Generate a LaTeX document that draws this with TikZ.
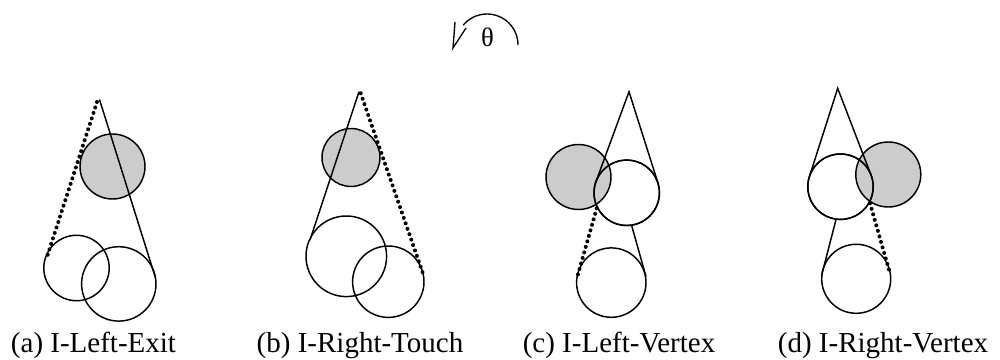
\documentclass[tikz,border=0pt]{standalone}
\usepackage{fontspec}
\setmainfont{Liberation Serif}
\begin{document}
\begin{tikzpicture}[x=0.75pt,y=-0.75pt,
  disc/.style={circle,draw=black,line width=1.1pt,inner sep=0pt,outer sep=0pt,minimum size={#1*1.5pt}},
  shaded/.style={fill=black!20},
  edge/.style={line width=1.1pt},
  dots/.style={line width=3pt,line cap=round,dash pattern=on 0pt off 4.3pt},
  caption/.style={anchor=base,inner sep=0pt,font=\fontsize{21.75pt}{26pt}\selectfont}
]
\useasboundingbox (0,0) rectangle (1000,360);

% ---------- (a) ----------
\node[disc=32.5,shaded] (ag) at (112.5,166.5) {};
\node[disc=32.7] (al) at (76.5,268) {};
\node[disc=37.2] (ar) at (118.8,283.9) {};
\coordinate (aapex) at (99.5,99.5);
\coordinate (adot) at (97,102);
\coordinate (ae1) at (155.5,278);
\coordinate (ae2) at (46,260);
\draw[edge] (aapex) -- (ae1);
\draw[dots] (adot) -- (ae2);

% ---------- (b) ----------
\node[disc=29,shaded] (bg) at (351,157.5) {};
\node[disc=40.3] (bl) at (346.3,256.3) {};
\node[disc=35.7] (br) at (388.3,281.7) {};
\coordinate (bapex) at (359,91.7);
\coordinate (bdot) at (360.7,93.3);
\coordinate (be1) at (310,240);
\coordinate (be2) at (422.7,272.7);
\draw[edge] (bapex) -- (be1);
\draw[dots] (bdot) -- (be2);

% ---------- (c) ----------
\node[disc=32.5,shaded] (cg) at (578.5,177) {};
\node[disc=32.7] (cm) at (626.7,192.8) {};
\node[disc=34.7] (cb) at (611.3,282.6) {};
\coordinate (capex) at (629,91.7);
\coordinate (cl) at (596,181.5);
\coordinate (cr) at (657.9,182.9);
\coordinate (cs1) at (631.7,225.6);
\coordinate (cs2) at (646,276.7);
\coordinate (cd1) at (596.7,208.3);
\coordinate (cd2) at (577.3,276.7);
\draw[edge] (cl) -- (capex) -- (cr);
\draw[edge] (cs1) -- (cs2);
\draw[dots] (cd1) -- (cd2);

% ---------- (d) ----------
\node[disc=32.5,shaded] (dg) at (888.3,174.5) {};
\node[disc=32.7] (dm) at (840.5,186.7) {};
\node[disc=34.5] (db) at (856.2,278.8) {};
\coordinate (dapex) at (837.7,88.3);
\coordinate (dl) at (809.4,176.7);
\coordinate (dr) at (871,175);
\coordinate (ds1) at (836,219.5);
\coordinate (ds2) at (821.7,275);
\coordinate (dd1) at (870,203.3);
\coordinate (dd2) at (890,273.3);
\draw[edge] (dl) -- (dapex) -- (dr);
\draw[edge] (ds1) -- (ds2);
\draw[dots] (dd1) -- (dd2);

% outlines of white circles drawn above the shaded ones
\node[disc=32.7] (cmo) at (626.7,192.8) {};
\node[disc=32.7] (dmo) at (840.5,186.7) {};

% ---------- rotation arrow ----------
\node[anchor=base,inner sep=0pt,font=\fontsize{20pt}{24pt}\selectfont] (theta) at (487.5,47) {θ};
\coordinate (rs) at (518,45);
\coordinate (tip) at (453,48);
\coordinate (barbA) at (455,22);
\coordinate (barbB) at (466,28);
\draw[line width=1pt] (rs) arc[start angle=0,end angle=-140,radius=31];
\draw[line width=1pt,line join=miter] (barbA) -- (tip) -- (barbB);

% ---------- captions ----------
\node[caption] (la) at (93.5,352) {(a) I-Left-Exit};
\node[caption] (lb) at (360,352) {(b) I-Right-Touch};
\node[caption] (lc) at (619,352) {(c) I-Left-Vertex};
\node[caption] (ld) at (883,352) {(d) I-Right-Vertex};
\end{tikzpicture}
\end{document}
